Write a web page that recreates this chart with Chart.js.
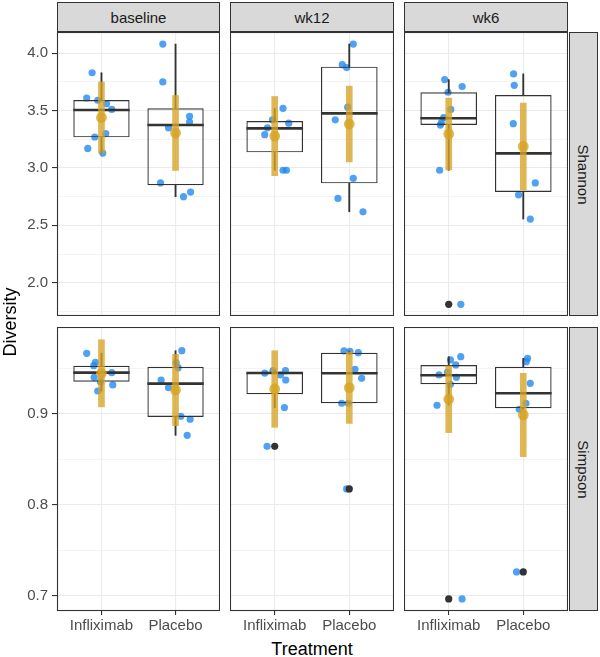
<!DOCTYPE html>
<html lang="en">
<head>
<meta charset="UTF-8">
<title>Diversity by treatment</title>
<style>
  body { margin: 0; width: 600px; height: 657px; position: relative; background: #fff; overflow: hidden;
         font-family: "Liberation Sans", Arial, sans-serif; }
  canvas { position: absolute; }
  .strip { position: absolute; box-sizing: border-box; background: #d9d9d9; border: 1px solid #333;
           color: #1a1a1a; font-size: 15px; display: flex; align-items: center; justify-content: center; }
  .strip span { white-space: nowrap; }
  .title { position: absolute; width: 200px; height: 20px; line-height: 20px; text-align: center;
           font-size: 18px; color: #000; white-space: nowrap; }
</style>
</head>
<body>
<script src="https://cdn.jsdelivr.net/npm/chart.js"></script>
<script>
const timepoints = ['baseline', 'wk12', 'wk6'];
const treatments = ['Infliximab', 'Placebo'];
const measures = ['Shannon', 'Simpson'];

// [timepoint][treatment]
const shannonValues = [
  [[3.83, 3.61, 3.59, 3.56, 3.51, 3.27, 3.30, 3.17, 3.13], [4.08, 3.75, 3.45, 3.40, 3.35, 2.87, 2.75, 2.79]],
  [[3.52, 3.42, 3.39, 3.35, 3.29, 2.98, 2.98], [4.08, 3.90, 3.875, 3.53, 3.42, 2.91, 2.735, 2.618]],
  [[3.77, 3.71, 3.66, 3.51, 3.44, 3.395, 3.374, 2.98, 1.812], [3.82, 3.72, 3.386, 2.87, 2.766, 2.555]]
];
const shannonJitter = [
  [[-0.126, -0.199, -0.05, 0.068, 0.139, -0.09, 0.058, -0.185, 0.018], [-0.172, -0.172, 0.189, 0.189, -0.095, -0.203, 0.108, 0.203]],
  [[0.111, -0.031, 0.188, -0.098, -0.134, 0.111, 0.157], [0.054, -0.094, -0.035, -0.021, -0.188, 0.054, -0.152, 0.184]],
  [[-0.054, 0.18, -0.009, 0.027, -0.068, -0.099, -0.112, -0.122, 0.162], [-0.13, -0.121, -0.134, 0.161, -0.063, 0.094]]
];
// lower whisker, q1, median, q3, upper whisker
const shannonBox = [
  [[3.13, 3.267, 3.505, 3.593, 3.83], [2.75, 2.85, 3.374, 3.52, 4.08]],
  [[2.98, 3.136, 3.345, 3.41, 3.52], [2.618, 2.866, 3.476, 3.883, 4.08]],
  [[2.98, 3.374, 3.433, 3.66, 3.77], [2.555, 2.79, 3.127, 3.636, 3.82]]
];
const shannonOutliers = [[[], []], [[], []], [[1.812], []]];
const shannonMean = [[3.44, 3.305], [3.278, 3.383], [3.296, 3.188]];
const shannonSd = [[0.31, 0.327], [0.345, 0.33], [0.313, 0.378]];

const simpsonValues = [
  [[0.9668, 0.957, 0.9532, 0.9455, 0.9404, 0.9356, 0.932, 0.9253], [0.9697, 0.9565, 0.951, 0.9374, 0.929, 0.8975, 0.8942, 0.8765]],
  [[0.945, 0.9477, 0.9477, 0.943, 0.9374, 0.907, 0.8644], [0.9694, 0.969, 0.9675, 0.9492, 0.9393, 0.9118, 0.9118, 0.8174]],
  [[0.9631, 0.9595, 0.954, 0.9459, 0.943, 0.9404, 0.9327, 0.9096, 0.6963], [0.9613, 0.9576, 0.9338, 0.9118, 0.9052, 0.726]]
];
const simpsonJitter = [
  [[-0.199, -0.081, -0.104, 0.139, -0.099, -0.014, 0.153, -0.05], [0.085, 0.008, 0.035, -0.195, -0.095, 0.072, 0.197, 0.157]],
  [[-0.134, -0.023, 0.144, 0.077, 0.148, 0.13, -0.103], [-0.071, 0.009, 0.121, 0.077, 0.166, -0.102, -0.013, -0.035]],
  [[0.161, 0.023, 0.094, -0.017, -0.13, 0.103, 0.023, -0.157, 0.179], [0.058, 0.04, 0.094, 0.036, -0.054, -0.09]]
];
const simpsonBox = [
  [[0.9253, 0.9356, 0.9455, 0.9532, 0.9668], [0.8765, 0.8967, 0.9334, 0.9521, 0.9697]],
  [[0.907, 0.9217, 0.9452, 0.9459, 0.9477], [0.9118, 0.9118, 0.9448, 0.9675, 0.9694]],
  [[0.9096, 0.9327, 0.9426, 0.954, 0.9631], [0.9052, 0.9063, 0.9228, 0.952, 0.9613]]
];
const simpsonOutliers = [[[], []], [[0.8644], [0.8174]], [[0.6963], [0.726]]];
const simpsonMean = [[0.9448, 0.9264], [0.9275, 0.929], [0.9162, 0.8989]];
const simpsonSd = [[0.037, 0.0393], [0.0422, 0.0394], [0.0367, 0.0459]];

const shannonTicks = [2.0, 2.5, 3.0, 3.5, 4.0];
const shannonTickLabels = ['2.0', '2.5', '3.0', '3.5', '4.0'];
const simpsonTicks = [0.7, 0.8, 0.9];
const simpsonTickLabels = ['0.7', '0.8', '0.9'];
const shannonRange = [1.71, 4.185];
const simpsonRange = [0.683, 0.9958];

// layout
const panelLeft = [57, 230, 404];
const panelWidth = [163, 164, 164];
const panelTop = [32, 327];
const panelHeight = 284;
const yAxisWidth = 57;
const xAxisHeight = 26;
const boxWidth = 0.76;
const blue = 'rgba(30,136,240,0.78)';
const gold = 'rgba(214,163,36,0.78)';
const dark = '#333333';

Chart.defaults.font.family = '"Liberation Sans", Arial, sans-serif';

const panelBorder = {
  id: 'panelBorder',
  afterDatasetsDraw(chart) {
    const { ctx, chartArea: a } = chart;
    ctx.save();
    ctx.strokeStyle = dark;
    ctx.lineWidth = 1.1;
    ctx.strokeRect(a.left + 0.5, a.top + 0.5, a.width - 1, a.height - 1);
    ctx.restore();
  }
};

function addDiv(cls, left, top, width, height, html, extra) {
  const d = document.createElement('div');
  d.className = cls;
  Object.assign(d.style, { left: left + 'px', top: top + 'px', width: width + 'px', height: height + 'px' }, extra || {});
  d.innerHTML = html;
  document.body.appendChild(d);
  return d;
}

function buildPanel(row, col) {
  const shannon = row === 0;
  const vals = (shannon ? shannonValues : simpsonValues)[col];
  const jit = (shannon ? shannonJitter : simpsonJitter)[col];
  const box = (shannon ? shannonBox : simpsonBox)[col];
  const outs = (shannon ? shannonOutliers : simpsonOutliers)[col];
  const mean = (shannon ? shannonMean : simpsonMean)[col];
  const sd = (shannon ? shannonSd : simpsonSd)[col];
  const majors = shannon ? shannonTicks : simpsonTicks;
  const labels = shannon ? shannonTickLabels : simpsonTickLabels;
  const range = shannon ? shannonRange : simpsonRange;

  const step = majors[1] - majors[0];
  const minors = majors.map(m => m - step / 2).concat([majors[majors.length - 1] + step / 2])
    .filter(v => v > range[0] && v < range[1]);
  const allTicks = majors.concat(minors).sort((a, b) => a - b);
  const isMajor = v => majors.some(m => Math.abs(m - v) < 1e-9);

  const canvas = document.createElement('canvas');
  const left = col === 0 ? 0 : panelLeft[col];
  const width = panelWidth[col] + (col === 0 ? yAxisWidth : 0);
  const height = panelHeight + (row === 1 ? xAxisHeight : 0);
  canvas.width = width;
  canvas.height = height;
  canvas.style.left = left + 'px';
  canvas.style.top = panelTop[row] + 'px';
  document.body.appendChild(canvas);

  const datasets = [
    { type: 'scatter', order: 6,
      data: treatments.flatMap((t, i) => vals[i].map((v, k) => ({ x: i + 1 + jit[i][k], y: v }))),
      pointRadius: 3.6, pointBackgroundColor: blue, pointBorderWidth: 0 },
    { type: 'bar', order: 5, grouped: false,
      data: treatments.map((t, i) => ({ x: i + 1, y: [box[i][1], box[i][3]] })),
      backgroundColor: 'rgba(0,0,0,0)', borderColor: dark, borderWidth: 1.2, borderSkipped: false,
      barPercentage: boxWidth, categoryPercentage: 1 },
    { type: 'bar', order: 4, grouped: false, barThickness: 1.2, backgroundColor: dark,
      data: treatments.map((t, i) => ({ x: i + 1, y: [box[i][3], box[i][4]] })) },
    { type: 'bar', order: 4, grouped: false, barThickness: 1.2, backgroundColor: dark,
      data: treatments.map((t, i) => ({ x: i + 1, y: [box[i][0], box[i][1]] })) },
    { type: 'line', order: 3, spanGaps: false, pointRadius: 0, borderColor: dark, borderWidth: 2.6,
      borderCapStyle: 'butt',
      data: treatments.flatMap((t, i) => [
        { x: i + 1 - boxWidth / 2, y: box[i][2] }, { x: i + 1 + boxWidth / 2, y: box[i][2] }, { x: i + 1.5, y: null }]) },
    { type: 'scatter', order: 2,
      data: treatments.flatMap((t, i) => outs[i].map(v => ({ x: i + 1, y: v }))),
      pointRadius: 3.6, pointBackgroundColor: dark, pointBorderWidth: 0 },
    { type: 'bar', order: 1, grouped: false, barThickness: 6, backgroundColor: gold,
      data: treatments.map((t, i) => ({ x: i + 1, y: [mean[i] - sd[i], mean[i] + sd[i]] })) },
    { type: 'scatter', order: 0,
      data: treatments.map((t, i) => ({ x: i + 1, y: mean[i] })),
      pointRadius: 5.4, pointBackgroundColor: gold, pointBorderWidth: 0 }
  ];

  new Chart(canvas, {
    type: 'bar',
    data: { datasets },
    plugins: [panelBorder],
    options: {
      responsive: false,
      animation: false,
      devicePixelRatio: 1,
      events: [],
      layout: { padding: 0, autoPadding: false },
      plugins: { legend: { display: false }, tooltip: { enabled: false } },
      scales: {
        x: {
          type: 'linear', min: 0.4, max: 2.6, offset: false,
          afterBuildTicks: s => { s.ticks = treatments.map((t, i) => ({ value: i + 1 })); },
          afterFit: s => { s.height = row === 1 ? xAxisHeight : 0; s.paddingLeft = 0; s.paddingRight = 0; },
          grid: { offset: false, color: '#ebebeb', lineWidth: 1.1, drawTicks: row === 1, tickLength: 4,
                  tickColor: dark, tickWidth: 1.1 },
          border: { display: false },
          ticks: { display: row === 1, autoSkip: false, maxRotation: 0, padding: 2,
                   color: '#4d4d4d', font: { size: 15 },
                   callback: v => treatments[Math.round(v) - 1] }
        },
        y: {
          type: 'linear', min: range[0], max: range[1],
          afterBuildTicks: s => { s.ticks = allTicks.map(v => ({ value: v })); },
          afterFit: s => { s.width = col === 0 ? yAxisWidth : 0; s.paddingTop = 0; s.paddingBottom = 0; },
          grid: { color: '#ebebeb',
                  lineWidth: c => (c.tick && isMajor(c.tick.value)) ? 1.1 : 0.55,
                  drawTicks: col === 0, tickLength: 5,
                  tickColor: c => (c.tick && isMajor(c.tick.value)) ? dark : 'rgba(0,0,0,0)',
                  tickWidth: 1.1 },
          border: { display: false },
          ticks: { display: col === 0, autoSkip: false, padding: 4, color: '#4d4d4d', font: { size: 15 },
                   callback: v => { const k = majors.findIndex(m => Math.abs(m - v) < 1e-9); return k >= 0 ? labels[k] : ''; } }
        }
      }
    }
  });
}

// strips
timepoints.forEach((t, c) => addDiv('strip', panelLeft[c], 2, panelWidth[c], 30, '<span>' + t + '</span>'));
measures.forEach((m, r) => addDiv('strip', 569, panelTop[r], 29, panelHeight,
  '<span style="transform: rotate(90deg); display:inline-block;">' + m + '</span>'));

for (let r = 0; r < 2; r++) for (let c = 0; c < 3; c++) buildPanel(r, c);

// axis titles
addDiv('title', -90, 311.5, 200, 20, 'Diversity', { transform: 'rotate(-90deg)' });
addDiv('title', 212, 639, 200, 20, 'Treatment');
</script>
</body>
</html>
